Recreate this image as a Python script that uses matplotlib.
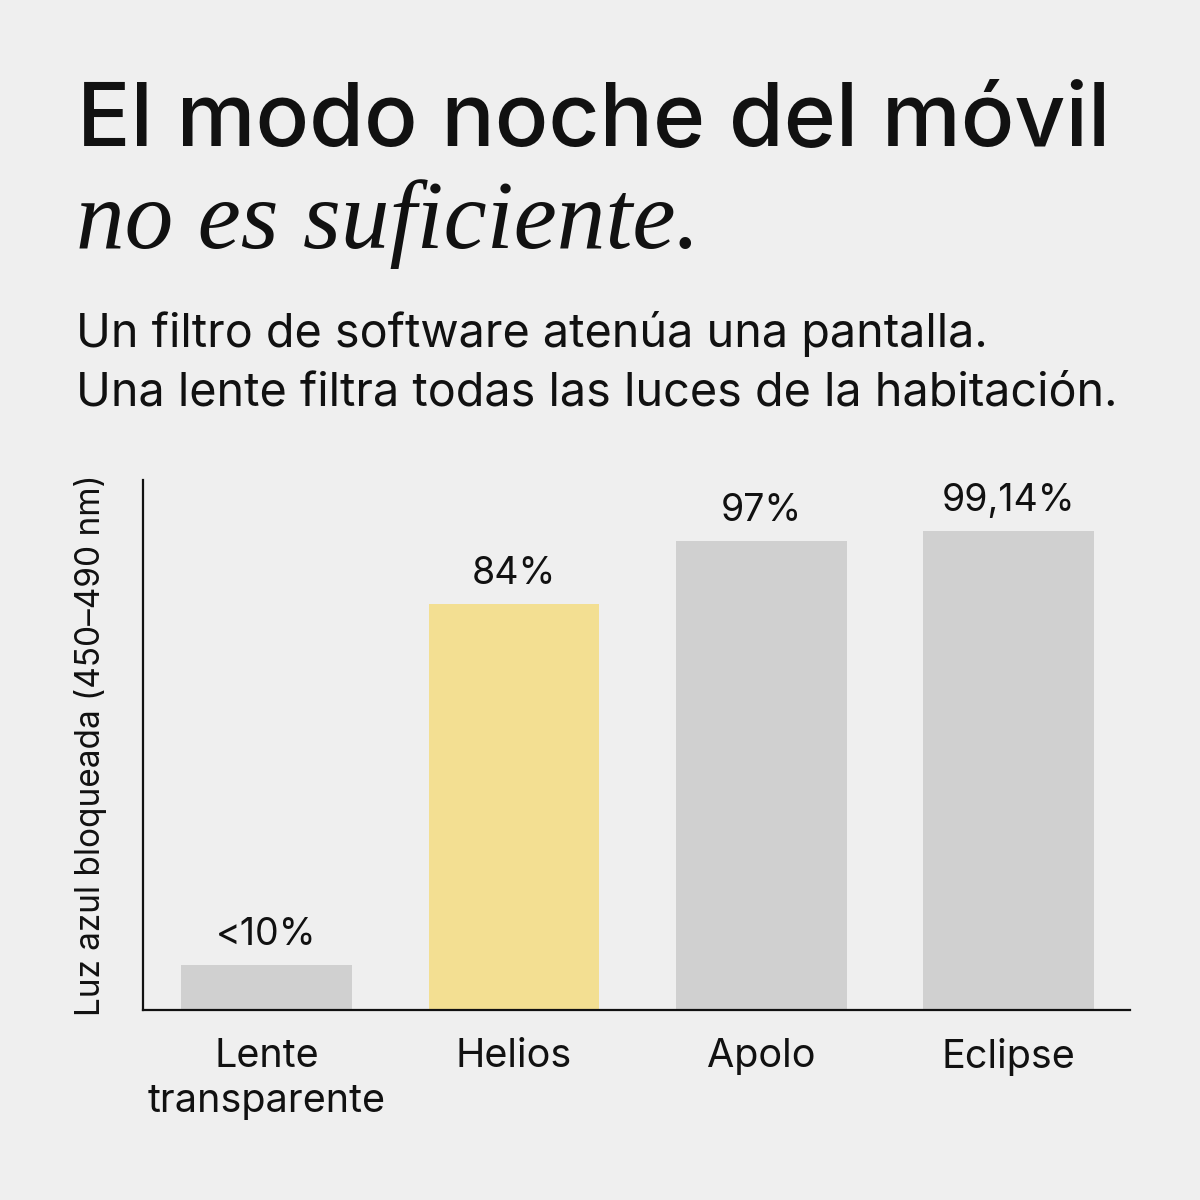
import matplotlib as mpl
import matplotlib.pyplot as plt

mpl.rcParams.update({
    "font.family": ["Inter", "DejaVu Sans"],
    "figure.dpi": 100,
})

categories = ["Lente\ntransparente", "Helios", "Apolo", "Eclipse"]
values = [9.3, 84, 97, 99.14]
value_labels = ["<10%", "84%", "97%", "99,14%"]
bar_colors = ["#d0d0d0", "#f3df92", "#d0d0d0", "#d0d0d0"]

bg = "#efefef"
fig = plt.figure(figsize=(12, 12), facecolor=bg)

# title block
fig.text(0.064, 1 - 146 / 1200, "El modo noche del móvil", fontsize=64,
         fontweight="medium", color="#111111", va="baseline", ha="left")
fig.text(0.063, 1 - 248 / 1200, "no es suficiente.", fontsize=70,
         family="Liberation Serif", style="italic", color="#111111",
         va="baseline", ha="left")
fig.text(0.063, 1 - 347 / 1200, "Un filtro de software atenúa una pantalla.",
         fontsize=33.7, color="#111111", va="baseline", ha="left")
fig.text(0.063, 1 - 405 / 1200, "Una lente filtra todas las luces de la habitación.",
         fontsize=33.7, color="#111111", va="baseline", ha="left")

ax = fig.add_axes([143 / 1200, 190 / 1200, 987 / 1200, 530 / 1200])
ax.set_facecolor(bg)
x = range(len(categories))
bars = ax.bar(x, values, width=0.69, color=bar_colors)
for b, lab in zip(bars, value_labels):
    ax.annotate(lab, (b.get_x() + b.get_width() / 2, b.get_height()),
                xytext=(0, 9), textcoords="offset points",
                ha="center", va="bottom", fontsize=27, color="#111111")

ax.set_xlim(-0.5, 3.49)
ax.set_ylim(0, 109.7)
ax.set_xticks(list(x))
ax.set_xticklabels(categories, fontsize=28.5, color="#111111", linespacing=1.3)
ax.tick_params(axis="x", length=0, pad=20)
ax.set_yticks([])
ax.spines["top"].set_visible(False)
ax.spines["right"].set_visible(False)
for s in ("left", "bottom"):
    ax.spines[s].set_linewidth(1.6)
    ax.spines[s].set_color("#111111")
ax.set_ylabel("Luz azul bloqueada (450–490 nm)", fontsize=24, color="#111111",
              labelpad=26)

fig.savefig("out.png", facecolor=bg)
